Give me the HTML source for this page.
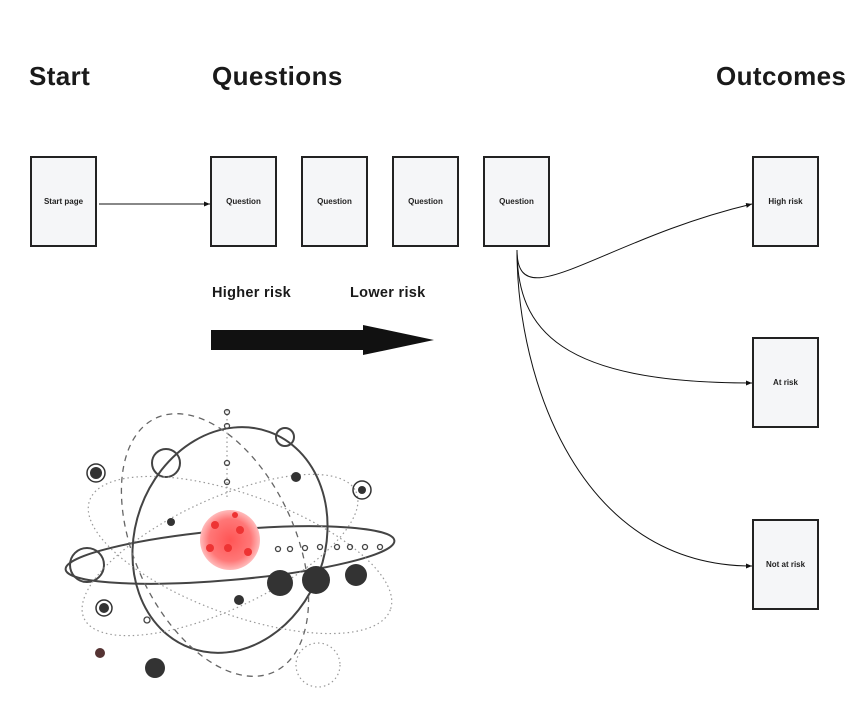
<!DOCTYPE html>
<html><head><style>
body{margin:0;background:#fff;width:861px;height:716px;overflow:hidden;position:relative;font-family:"Liberation Sans","DejaVu Sans",sans-serif}
.t{position:absolute;font-weight:bold;font-size:26px;color:#1a1a1a;top:61px;letter-spacing:0.4px}
.b{position:absolute;width:63px;height:87px;border:2px solid #222;background:#f5f6f8;font-size:8px;font-weight:bold;color:#222;display:flex;align-items:center;justify-content:center}
.s{position:absolute;font-weight:bold;font-size:14.5px;color:#1a1a1a;top:285px;letter-spacing:0.3px}
</style></head><body>
<div class="t" style="left:29px">Start</div>
<div class="t" style="left:212px">Questions</div>
<div class="t" style="left:716px">Outcomes</div>
<div class="b" style="left:30px;top:156px">Start page</div>
<div class="b" style="left:210px;top:156px">Question</div>
<div class="b" style="left:301px;top:156px">Question</div>
<div class="b" style="left:392px;top:156px">Question</div>
<div class="b" style="left:483px;top:156px">Question</div>
<div class="b" style="left:752px;top:156px">High risk</div>
<div class="b" style="left:752px;top:337px">At risk</div>
<div class="b" style="left:752px;top:519px">Not at risk</div>
<div class="s" style="left:212px">Higher risk</div>
<div class="s" style="left:350px">Lower risk</div>
<svg width="861" height="716" style="position:absolute;left:0;top:0">
<defs><marker id="a" markerWidth="6" markerHeight="6" refX="6" refY="3" orient="auto"><path d="M0,0.5L6,3L0,5.5z" fill="#111"/></marker>
<radialGradient id="r"><stop offset="0" stop-color="#f55"/><stop offset="0.7" stop-color="#f77"/><stop offset="1" stop-color="#fbb"/></radialGradient></defs>
<line x1="99" y1="204" x2="210" y2="204" stroke="#111" stroke-width="1" marker-end="url(#a)"/>
<g fill="none" stroke="#111" stroke-width="1">
<path d="M517,250 C517,320 600,240 752,204" marker-end="url(#a)"/>
<path d="M517,250 C517,330 560,383 752,383" marker-end="url(#a)"/>
<path d="M517,250 C517,380 580,566 752,566" marker-end="url(#a)"/>
</g>
<polygon points="211,330 363,330 363,325 434,340 363,355 363,350 211,350" fill="#111"/>
<g fill="none" stroke="#444" stroke-width="2">
<ellipse cx="230" cy="540" rx="95" ry="115" transform="rotate(20 230 540)"/>
<ellipse cx="230" cy="555" rx="165" ry="25" transform="rotate(-5 230 555)"/>
<circle cx="166" cy="463" r="14"/>
<circle cx="87" cy="565" r="17"/>
<circle cx="285" cy="437" r="9"/>
</g>
<g fill="none" stroke="#666" stroke-width="1.3" stroke-dasharray="6 5">
<ellipse cx="215" cy="545" rx="80" ry="140" transform="rotate(-25 215 545)"/>
</g>
<g fill="none" stroke="#999" stroke-width="1.2" stroke-dasharray="1.5 3">
<ellipse cx="240" cy="555" rx="160" ry="60" transform="rotate(20 240 555)"/>
<ellipse cx="220" cy="555" rx="150" ry="55" transform="rotate(-25 220 555)"/>
<line x1="227" y1="410" x2="227" y2="500"/>
<circle cx="318" cy="665" r="22"/>
</g>
<circle cx="230" cy="540" r="30" fill="url(#r)"/>
<g fill="#e33"><circle cx="215" cy="525" r="4"/><circle cx="240" cy="530" r="4"/><circle cx="228" cy="548" r="4"/><circle cx="248" cy="552" r="4"/><circle cx="210" cy="548" r="4"/><circle cx="235" cy="515" r="3"/></g>
<g fill="#333"><circle cx="280" cy="583" r="13"/><circle cx="316" cy="580" r="14"/><circle cx="356" cy="575" r="11"/><circle cx="155" cy="668" r="10"/><circle cx="296" cy="477" r="5"/><circle cx="96" cy="473" r="6"/><circle cx="239" cy="600" r="5"/><circle cx="104" cy="608" r="5"/><circle cx="171" cy="522" r="4"/><circle cx="362" cy="490" r="4"/><circle cx="100" cy="653" r="5" fill="#533"/></g>
<g fill="none" stroke="#333" stroke-width="1.5"><circle cx="362" cy="490" r="9"/><circle cx="96" cy="473" r="9"/><circle cx="104" cy="608" r="8"/></g>
<g fill="none" stroke="#444" stroke-width="1.3"><circle cx="278" cy="549" r="2.5"/><circle cx="290" cy="549" r="2.5"/><circle cx="305" cy="548" r="2.5"/><circle cx="320" cy="547" r="2.5"/><circle cx="337" cy="547" r="2.5"/><circle cx="350" cy="547" r="2.5"/><circle cx="365" cy="547" r="2.5"/><circle cx="380" cy="547" r="2.5"/><circle cx="227" cy="412" r="2.5"/><circle cx="227" cy="426" r="2.5"/><circle cx="227" cy="463" r="2.5"/><circle cx="227" cy="482" r="2.5"/><circle cx="147" cy="620" r="3"/></g>
</svg>
</body></html>
